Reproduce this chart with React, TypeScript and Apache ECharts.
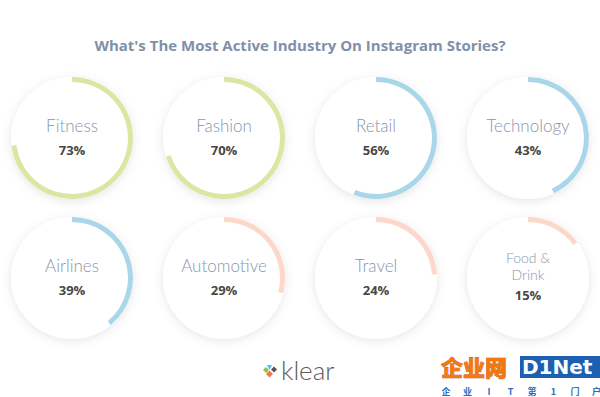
import React, { useEffect, useRef } from "react";
import * as echarts from "echarts";

const titleText = "What's The Most Active Industry On Instagram Stories?";
const industries = ["Fitness", "Fashion", "Retail", "Technology", "Airlines", "Automotive", "Travel", "Food &\nDrink"];
const percents = [73, 70, 56, 43, 39, 29, 24, 15];
const colors = ["#d9e7a3", "#d9e7a3", "#aad6ea", "#aad6ea", "#aad6ea", "#fdd7ca", "#fdd7ca", "#fdd7ca"];
const colX = [72, 224, 376, 528];
const rowY = [138, 278];
const wmChars = ["企", "业", "I", "T", "第", "1", "门", "户"];

export default function App() {
  const ref = useRef<HTMLDivElement>(null);
  useEffect(() => {
    document.body.style.margin = "0";
    const chart = echarts.init(ref.current!, null, { renderer: "svg" });
    const series: any[] = [];
    const graphic: any[] = [];
    const R = 61;
    industries.forEach((name, i) => {
      const cx = colX[i % 4];
      const cy = rowY[Math.floor(i / 4)];
      series.push({
        type: "pie",
        silent: true,
        center: [cx, cy],
        radius: [0, R],
        label: { show: false },
        labelLine: { show: false },
        itemStyle: { color: "#ffffff", shadowBlur: 10, shadowColor: "rgba(0,0,0,0.10)", shadowOffsetY: 2 },
        data: [{ value: 1 }],
        z: 1,
      });
      series.push({
        type: "pie",
        silent: true,
        center: [cx, cy],
        radius: [R - 5, R],
        startAngle: 90,
        clockwise: true,
        label: { show: false },
        labelLine: { show: false },
        data: [
          { value: percents[i], itemStyle: { color: colors[i] } },
          { value: 100 - percents[i], itemStyle: { color: "rgba(0,0,0,0)" } },
        ],
        z: 2,
      });
      const lines = name.split("\n");
      const twoLine = lines.length > 1;
      lines.forEach((ln, k) => {
        graphic.push({
          type: "text",
          x: cx,
          y: twoLine ? cy - 21 + k * 17 : cy - 13,
          z: 10,
          style: {
            text: ln,
            fill: "#8796ae",
            font: twoLine ? "300 14px Lato" : "300 17px Lato",
            lineHeight: twoLine ? 13 : 20,
            align: "center",
            verticalAlign: "middle",
          },
        });
      });
      graphic.push({
        type: "text",
        x: cx,
        y: twoLine ? cy + 17 : cy + 12,
        z: 10,
        style: {
          text: percents[i] + "%",
          fill: "#474747",
          font: "bold 13px 'Open Sans'",
          align: "center",
          verticalAlign: "middle",
        },
      });
    });
    // klear logo
    graphic.push(
      { type: "polygon", z: 10, shape: { points: [[263, 370], [266, 367], [269, 370], [266, 373]] }, style: { fill: "#8cc152" } },
      { type: "polygon", z: 10, shape: { points: [[267, 365], [272, 365], [269.5, 370]] }, style: { fill: "#4fc1e9" } },
      { type: "polygon", z: 10, shape: { points: [[266, 374], [269.5, 370.5], [273, 374], [269.5, 377.5]] }, style: { fill: "#f3764a" } },
      { type: "polygon", z: 10, shape: { points: [[271, 369.5], [274, 366.5], [277, 369.5], [274, 372.5]] }, style: { fill: "#555555" } },
      { type: "text", z: 10, x: 281, y: 370, style: { text: "klear", font: "300 26px Lato", fill: "#5a5a5a", verticalAlign: "middle" } }
    );
    // watermark
    graphic.push(
      { type: "text", z: 10, x: 441, y: 366, style: { text: "企业网", font: "900 22px 'Noto Sans CJK SC'", lineHeight: 22, fill: "#f07a10", stroke: "#c0392b", lineWidth: 0.6, verticalAlign: "middle" } },
      { type: "rect", z: 9, shape: { x: 520, y: 356, width: 80, height: 22 }, style: { fill: "#1d5fb0" } },
      { type: "text", z: 10, x: 522, y: 367, style: { text: "D1Net", font: "bold 20px 'DejaVu Sans'", lineHeight: 20, fill: "#ffffff", verticalAlign: "middle" } }
    );
    wmChars.forEach((c, k) => {
      graphic.push({
        type: "text", z: 10, x: 446 + k * 21.5, y: 391,
        style: { text: c, font: "bold 9px 'Noto Sans CJK SC'", lineHeight: 9, fill: "#2a6cc0", align: "center", verticalAlign: "middle" },
      });
    });
    chart.setOption({
      animation: false,
      backgroundColor: "#ffffff",
      title: {
        text: titleText,
        left: "center",
        top: 32,
        textStyle: { color: "#8190a8", fontSize: 15, fontWeight: "bold", fontFamily: "'Open Sans'" },
      },
      series,
      graphic,
    });
    return () => chart.dispose();
  }, []);
  return <div ref={ref} style={{ width: 600, height: 397 }} />;
}
